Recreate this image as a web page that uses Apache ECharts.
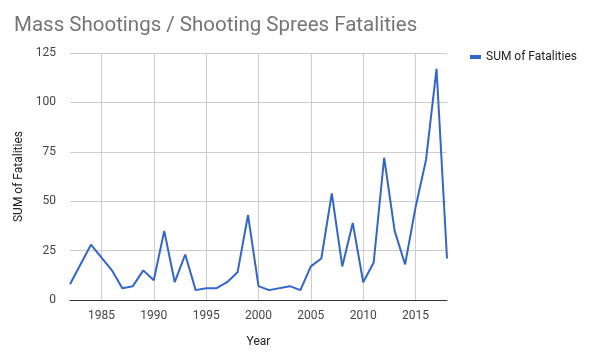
<!DOCTYPE html>
<html>
<head>
<meta charset="utf-8">
<script src="https://cdn.jsdelivr.net/npm/echarts@6/dist/echarts.min.js"></script>
<style>html,body{margin:0;padding:0;background:#fff}#c{width:591px;height:360px}</style>
</head>
<body>
<div id="c"></div>
<script>
const years = [1982,1984,1986,1987,1988,1989,1990,1991,1992,1993,1994,1995,1996,1997,1998,1999,2000,2001,2003,2004,2005,2006,2007,2008,2009,2010,2011,2012,2013,2014,2015,2016,2017,2018];
const fatalities = [8,28,15,6,7,15,10,35,9,23,5,6,6,9,14,43,7,5,7,5,17,21,54,17,39,9,19,72,35,18,47,71,117,21];
const xTicks = [1985,1990,1995,2000,2005,2010,2015];
const yTicks = [0,25,50,75,100,125];
const seriesName = 'SUM of Fatalities';

const chart = echarts.init(document.getElementById('c'));
chart.setOption({
  animation: false,
  textStyle: {fontFamily: 'Roboto'},
  title: {
    text: 'Mass Shootings / Shooting Sprees Fatalities',
    left: 9, top: 10,
    textStyle: {fontFamily: 'Roboto', fontSize: 20.5, fontWeight: 'normal', color: '#757575'}
  },
  legend: {
    data: [seriesName],
    left: 465, top: 46,
    icon: 'rect', itemWidth: 11, itemHeight: 4, itemGap: 5,
    textStyle: {fontFamily: 'Roboto', fontSize: 12, color: '#222'}
  },
  grid: {left: 70, right: 144, top: 53, bottom: 60},
  xAxis: {
    type: 'value', min: 1982, max: 2018,
    name: 'Year', nameLocation: 'middle', nameGap: 36,
    nameTextStyle: {fontFamily: 'Roboto', fontSize: 12, color: '#222'},
    axisLine: {show: true, onZero: false, lineStyle: {color: '#333', width: 1}},
    axisTick: {show: false, customValues: xTicks},
    axisLabel: {customValues: xTicks, color: '#444', fontSize: 12, margin: 10, formatter: v => String(v)},
    splitLine: {show: true, lineStyle: {color: '#ccc', width: 1}}
  },
  yAxis: {
    type: 'value', min: 0, max: 125, interval: 25,
    name: 'SUM of Fatalities', nameLocation: 'middle', nameGap: 44,
    nameTextStyle: {fontFamily: 'Roboto', fontSize: 12, color: '#222'},
    axisLine: {show: false},
    axisTick: {show: false},
    axisLabel: {color: '#444', fontSize: 12, margin: 14},
    splitLine: {show: true, lineStyle: {color: '#ccc', width: 1}}
  },
  series: [{
    name: seriesName,
    type: 'line',
    data: years.map((y, i) => [y, fatalities[i]]),
    showSymbol: false,
    symbol: 'none',
    lineStyle: {color: '#3366cc', width: 2},
    itemStyle: {color: '#3366cc'},
    clip: true
  }]
});
</script>
</body>
</html>
